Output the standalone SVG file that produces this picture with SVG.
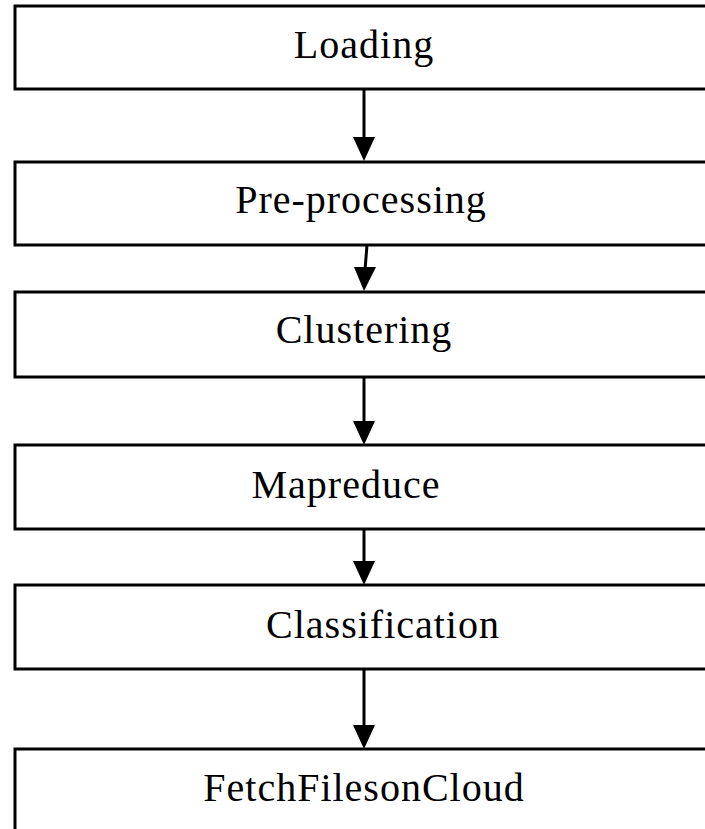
<svg xmlns="http://www.w3.org/2000/svg" width="705" height="829" viewBox="0 0 705 829">
  <style>
    .box { fill: #ffffff; stroke: #000000; stroke-width: 3; }
    .label { font-family: "Liberation Serif", "Times New Roman", serif; font-size: 40px; letter-spacing: 1px; fill: #000000; text-anchor: middle; }
    .edge { stroke: #000000; stroke-width: 3; fill: none; }
    .head { fill: #000000; }
  </style>
  <rect width="705" height="829" fill="#ffffff"/>

  <g id="node-loading">
    <rect class="box" x="15" y="6" width="700" height="83"/>
    <text class="label" x="364" y="58">Loading</text>
  </g>
  <g id="node-preprocessing">
    <rect class="box" x="15" y="162" width="700" height="83"/>
    <text class="label" x="361" y="213">Pre-processing</text>
  </g>
  <g id="node-clustering">
    <rect class="box" x="15" y="292" width="700" height="85"/>
    <text class="label" x="364" y="343">Clustering</text>
  </g>
  <g id="node-mapreduce">
    <rect class="box" x="15" y="445" width="700" height="84"/>
    <text class="label" x="346" y="498">Mapreduce</text>
  </g>
  <g id="node-classification">
    <rect class="box" x="15" y="585" width="700" height="84"/>
    <text class="label" x="383" y="638">Classification</text>
  </g>
  <g id="node-fetch">
    <rect class="box" x="15" y="749" width="700" height="120"/>
    <text class="label" x="364" y="801">FetchFilesonCloud</text>
  </g>

  <g id="connectors">
    <line class="edge" x1="364" y1="89" x2="364" y2="140"/>
    <polygon class="head" points="353,137 375,137 364,161"/>

    <line class="edge" x1="367" y1="245" x2="365" y2="270"/>
    <polygon class="head" points="354,267 376,267 364,291"/>

    <line class="edge" x1="364" y1="377" x2="364" y2="424"/>
    <polygon class="head" points="353,421 375,421 364,445"/>

    <line class="edge" x1="364" y1="529" x2="364" y2="564"/>
    <polygon class="head" points="353,561 375,561 364,585"/>

    <line class="edge" x1="364" y1="669" x2="364" y2="728"/>
    <polygon class="head" points="353,725 375,725 364,749"/>
  </g>
</svg>
